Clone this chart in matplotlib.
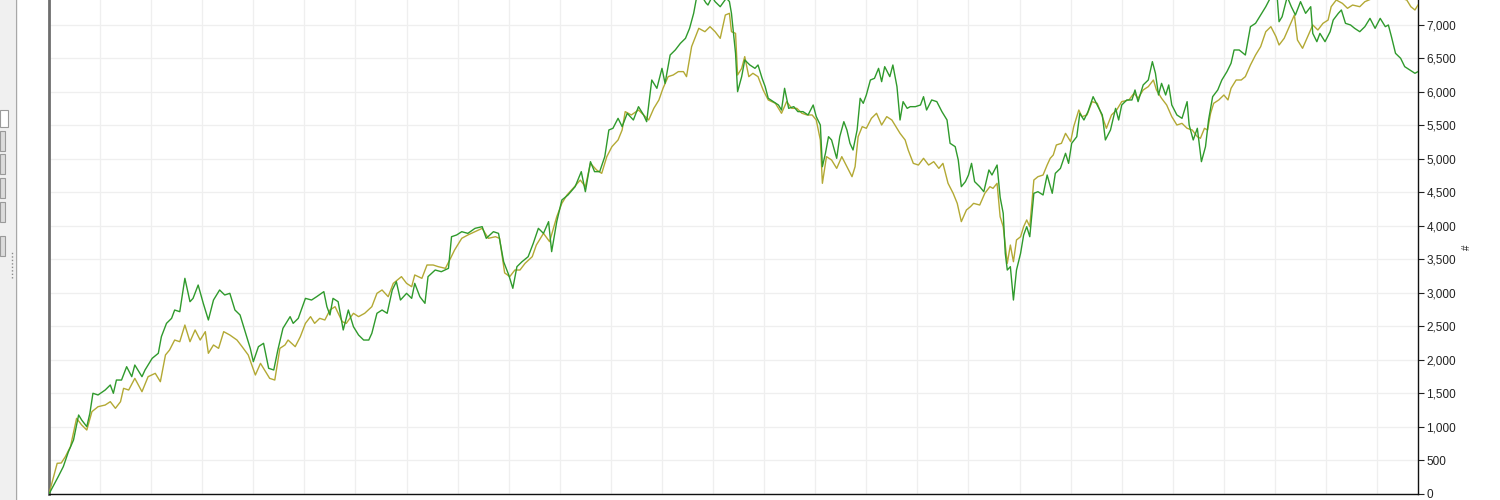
import matplotlib
matplotlib.use("Agg")
import matplotlib.pyplot as plt
from matplotlib.patches import Rectangle
from matplotlib.lines import Line2D
from matplotlib.ticker import MultipleLocator, FuncFormatter

# equity curves (bar index, account value)
green_bar = [0, 9, 14, 19, 24, 29, 32, 37, 40, 43, 48, 55, 60, 63, 66, 71, 76, 81, 84, 91,
             94, 101, 107, 110, 115, 120, 123, 128, 133, 138, 141, 146, 151, 156, 161, 167, 172, 177, 182, 187,
             192, 197, 200, 205, 210, 215, 220, 224, 229, 236, 239, 244, 251, 257, 262, 269, 272, 275, 278, 283,
             288, 293, 298, 303, 308, 313, 316, 321, 326, 331, 336, 340, 344, 350, 355, 358, 363, 368, 371, 378,
             384, 391, 394, 399, 404, 410, 417, 424, 428, 435, 440, 445, 450, 454, 458, 463, 469, 474, 479, 484,
             489, 492, 497, 502, 508, 515, 521, 525, 530, 534, 539, 544, 548, 552, 557, 561, 566, 572, 577, 582,
             585, 590, 595, 600, 603, 608, 613, 618, 623, 627, 631, 634, 637, 643, 645, 649, 652, 657, 663, 666,
             668, 672, 674, 678, 681, 686, 691, 694, 698, 701, 704, 709, 714, 717, 720, 724, 729, 733, 738, 743,
             748, 751, 755, 757, 760, 763, 766, 771, 774, 778, 781, 784, 787, 791, 794, 797, 800, 804, 808, 812,
             815, 818, 823, 826, 830, 833, 836, 840, 843, 848, 853, 856, 859, 864, 869, 874, 879, 882, 887, 890,
             893, 897, 900, 903, 906, 911, 915, 920, 923, 928, 931, 934, 936, 938, 941, 944, 947, 951, 954, 957,
             960, 964, 968, 973, 977, 982, 985, 990, 995, 998, 1001, 1006, 1009, 1013, 1017, 1022, 1026, 1031, 1034, 1039,
             1044, 1047, 1050, 1055, 1060, 1063, 1066, 1071, 1076, 1080, 1083, 1086, 1089, 1093, 1096, 1099, 1104, 1109, 1114, 1116,
             1120, 1124, 1128, 1132, 1135, 1139, 1144, 1148, 1153, 1157, 1160, 1165, 1171, 1176, 1181, 1186, 1191, 1196, 1202, 1204,
             1207, 1212, 1216, 1220, 1225, 1230, 1235, 1237, 1241, 1244, 1249, 1254, 1257, 1262, 1265, 1269, 1274, 1278, 1283, 1288,
             1293, 1298, 1303, 1308, 1311, 1314, 1318, 1323, 1327, 1332, 1337, 1340]
green_val = [0, 258, 408, 631, 806, 1179, 1104, 1005, 1204, 1503, 1478, 1552, 1627, 1503, 1701, 1701, 1900, 1751, 1925, 1751,
             1851, 2025, 2100, 2348, 2547, 2622, 2746, 2721, 3219, 2870, 2920, 3119, 2846, 2597, 2895, 3045, 2970, 2995, 2746, 2672,
             2423, 2174, 1975, 2199, 2249, 1876, 1851, 2149, 2473, 2647, 2547, 2622, 2920, 2895, 2945, 3020, 2796, 2672, 2920, 2870,
             2448, 2746, 2497, 2373, 2298, 2298, 2398, 2697, 2746, 2697, 3045, 3169, 2895, 2995, 2920, 3144, 2945, 2846, 3244, 3343,
             3318, 3368, 3840, 3866, 3915, 3890, 3965, 3990, 3816, 3915, 3890, 3467, 3269, 3070, 3393, 3467, 3542, 3741, 3965, 3890,
             4065, 3617, 4065, 4388, 4463, 4587, 4811, 4512, 4960, 4811, 4811, 5035, 5433, 5458, 5607, 5483, 5682, 5582, 5781, 5657,
             5557, 6179, 6055, 6353, 6129, 6552, 6627, 6726, 6801, 6950, 7174, 7420, 7480, 7330, 7298, 7420, 7348, 7273, 7400, 7350,
             7174, 6577, 6005, 6229, 6478, 6403, 6353, 6403, 6204, 6080, 5906, 5856, 5806, 5731, 6055, 5756, 5781, 5707, 5707, 5657,
             5806, 5632, 5507, 4885, 5085, 5333, 5284, 5010, 5333, 5557, 5433, 5234, 5134, 5433, 5906, 5831, 5955, 6179, 6204, 6353,
             6154, 6378, 6229, 6403, 6080, 5582, 5856, 5756, 5781, 5781, 5806, 5930, 5731, 5881, 5856, 5707, 5582, 5234, 5184, 4985,
             4587, 4662, 4761, 4935, 4662, 4587, 4512, 4836, 4761, 4910, 4428, 4189, 3592, 3343, 3393, 2895, 3343, 3592, 3866, 3990,
             3840, 4488, 4512, 4463, 4761, 4488, 4786, 4860, 5085, 4935, 5234, 5333, 5682, 5582, 5707, 5930, 5806, 5657, 5284, 5433,
             5756, 5582, 5806, 5881, 5881, 6030, 5856, 6105, 6179, 6453, 6279, 5955, 6129, 5955, 6105, 5806, 5657, 5607, 5856, 5507,
             5284, 5458, 4960, 5184, 5582, 5930, 6030, 6179, 6304, 6428, 6627, 6627, 6552, 6975, 7025, 7149, 7273, 7420, 7450, 7049,
             7124, 7420, 7273, 7149, 7348, 7174, 7273, 6875, 6751, 6875, 6751, 6900, 7074, 7174, 7224, 7025, 7000, 6950, 6900, 6975,
             7099, 6950, 7099, 6975, 7000, 6826, 6577, 6503, 6378, 6328, 6279, 6304]

yellow_bar = [0, 8, 12, 16, 21, 27, 32, 37, 42, 48, 55, 60, 65, 70, 73, 78, 84, 91, 97, 104,
              109, 114, 118, 123, 128, 133, 138, 143, 148, 153, 156, 161, 166, 171, 177, 184, 189, 195, 202, 207,
              211, 216, 221, 226, 231, 234, 241, 246, 251, 256, 260, 265, 270, 275, 280, 287, 291, 298, 303, 309,
              316, 321, 326, 332, 337, 345, 350, 355, 358, 365, 370, 376, 381, 388, 393, 397, 404, 410, 417, 424,
              430, 437, 441, 446, 451, 456, 461, 466, 473, 477, 484, 490, 497, 502, 507, 513, 520, 525, 530, 536,
              541, 546, 551, 557, 561, 564, 570, 577, 582, 587, 592, 597, 601, 606, 611, 616, 621, 624, 629, 636,
              642, 647, 652, 657, 662, 666, 668, 672, 674, 678, 681, 685, 689, 694, 699, 704, 711, 717, 722, 727,
              732, 737, 742, 747, 751, 755, 757, 761, 766, 771, 776, 781, 786, 789, 792, 796, 800, 805, 810, 815,
              820, 825, 830, 833, 838, 841, 846, 851, 856, 861, 866, 871, 875, 880, 885, 889, 893, 898, 902, 905,
              911, 916, 921, 924, 928, 931, 934, 938, 941, 944, 947, 951, 954, 957, 960, 964, 968, 973, 977, 980,
              983, 986, 991, 995, 1000, 1003, 1008, 1011, 1016, 1021, 1026, 1031, 1035, 1040, 1045, 1050, 1057, 1062, 1066, 1071,
              1076, 1081, 1084, 1089, 1094, 1099, 1104, 1109, 1114, 1119, 1124, 1127, 1131, 1134, 1137, 1140, 1145, 1150, 1154, 1157,
              1162, 1167, 1171, 1176, 1181, 1186, 1191, 1196, 1201, 1204, 1209, 1214, 1219, 1222, 1227, 1232, 1237, 1242, 1247, 1252,
              1255, 1260, 1266, 1271, 1276, 1283, 1288, 1293, 1299, 1309, 1319, 1329, 1333, 1337, 1340]
yellow_val = [0, 458, 463, 557, 706, 1129, 1030, 955, 1229, 1303, 1328, 1378, 1279, 1378, 1577, 1552, 1726, 1527, 1751, 1801,
              1676, 2075, 2149, 2298, 2273, 2522, 2273, 2448, 2298, 2423, 2100, 2224, 2174, 2423, 2373, 2298, 2199, 2075, 1776, 1950,
              1851, 1726, 1701, 2174, 2224, 2298, 2199, 2348, 2547, 2647, 2547, 2622, 2597, 2746, 2796, 2572, 2547, 2697, 2647, 2697,
              2796, 2995, 3045, 2945, 3144, 3244, 3144, 3094, 3269, 3219, 3418, 3418, 3393, 3368, 3517, 3642, 3816, 3866, 3915, 3965,
              3816, 3840, 3816, 3300, 3244, 3343, 3343, 3443, 3542, 3716, 3890, 3766, 4139, 4338, 4463, 4563, 4686, 4587, 4935, 4836,
              4786, 5035, 5184, 5284, 5433, 5707, 5657, 5731, 5657, 5582, 5756, 5881, 6055, 6229, 6254, 6304, 6304, 6229, 6677, 6950,
              6900, 6975, 6900, 6801, 7149, 7174, 6900, 6875, 6254, 6353, 6528, 6229, 6279, 6229, 6030, 5881, 5831, 5682, 5856, 5756,
              5756, 5682, 5657, 5657, 5582, 5284, 4637, 5035, 4985, 4860, 5035, 4885, 4736, 4885, 5333, 5483, 5458, 5607, 5682, 5507,
              5632, 5582, 5458, 5383, 5284, 5134, 4935, 4910, 5010, 4910, 4960, 4860, 4935, 4637, 4488, 4338, 4065, 4239, 4289, 4338,
              4313, 4488, 4587, 4562, 4637, 4139, 3990, 3443, 3716, 3467, 3791, 3840, 3990, 4090, 3990, 4686, 4736, 4761, 4910, 5010,
              5060, 5209, 5234, 5383, 5259, 5483, 5731, 5632, 5657, 5856, 5831, 5632, 5458, 5657, 5731, 5856, 5881, 5980, 5906, 6030,
              6080, 6179, 6030, 5906, 5806, 5632, 5507, 5532, 5458, 5433, 5333, 5309, 5458, 5433, 5682, 5831, 5881, 5955, 5881, 6055,
              6179, 6179, 6229, 6403, 6552, 6677, 6900, 6975, 6826, 6701, 6801, 6975, 7149, 6776, 6652, 6826, 7000, 6925, 7025, 7074,
              7273, 7373, 7323, 7249, 7298, 7273, 7348, 7380, 7420, 7450, 7420, 7373, 7273, 7224, 7298]

y_ticks = list(range(0, 7001, 500))

GREEN = "#2f9a2c"
OLIVE = "#b3a934"

fig = plt.figure(figsize=(15, 5), dpi=100)
fig.patch.set_facecolor("white")
plt.rcParams["font.family"] = ["Liberation Sans", "DejaVu Sans"]

# left strip of the application window (panel, inputs, buttons)
W, H = 1500.0, 500.0
def px(x, y, w, h):
    return (x / W, 1 - (y + h) / H, w / W, h / H)

fig.patches.append(Rectangle((0, 0), 15 / W, 1, transform=fig.transFigure,
                             facecolor="#f0f0f0", edgecolor="none"))
fig.lines.append(Line2D([15.5 / W] * 2, [0, 1], transform=fig.transFigure, color="#a8a8a8", lw=1))
x0, y0, w0, h0 = px(0, 110, 8, 17)
fig.patches.append(Rectangle((x0, y0), w0, h0, transform=fig.transFigure,
                             facecolor="white", edgecolor="#9a9a9a", lw=0.8))
for top in [131, 154, 178, 202, 236]:
    x0, y0, w0, h0 = px(0, top, 5, 20)
    fig.patches.append(Rectangle((x0, y0), w0, h0, transform=fig.transFigure,
                                 facecolor="#dcdcdc", edgecolor="#9a9a9a", lw=0.8))
fig.lines.append(Line2D([12 / W] * 2, [1 - 278 / H, 1 - 252 / H], transform=fig.transFigure,
                        color="#8a8a8a", lw=1, ls=(0, (1, 1.5))))

ax = fig.add_axes([49 / W, 6 / H, (1418 - 49) / W, 494 / H])
ax.plot(yellow_bar, yellow_val, color=OLIVE, lw=1.0, zorder=3)
ax.plot(green_bar, green_val, color=GREEN, lw=1.0, zorder=4)

ax.set_xlim(0, 1340)
ax.set_ylim(0, 7373)
ax.xaxis.set_major_locator(MultipleLocator(50))
ax.set_yticks(y_ticks)
ax.yaxis.set_major_formatter(FuncFormatter(lambda v, p: f"{int(v):,}"))
ax.yaxis.tick_right()
ax.tick_params(axis="y", direction="out", length=4, width=0.8, color="#222222",
               labelsize=8.5, labelcolor="#222222", pad=2)
ax.tick_params(axis="x", length=0, labelbottom=False)
ax.grid(True, color="#efefef", lw=0.9)
ax.set_axisbelow(True)

ax.spines["top"].set_visible(False)
ax.spines["left"].set_color("#6e6e6e")
ax.spines["left"].set_linewidth(2)
ax.spines["right"].set_color("#111111")
ax.spines["right"].set_linewidth(1)
ax.spines["bottom"].set_color("#111111")
ax.spines["bottom"].set_linewidth(1)

ax.yaxis.set_label_position("right")
ax.set_ylabel("#", fontsize=7, rotation=90, labelpad=4, color="#222222")

fig.savefig("out.png", dpi=100)
